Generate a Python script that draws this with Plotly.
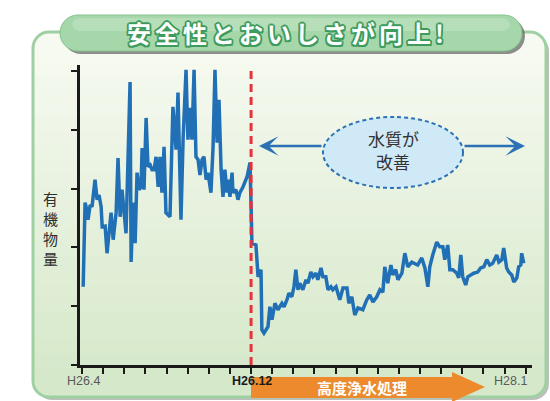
import plotly.graph_objects as go

# Organic-matter readings; x is months counted from H26.4
months = [
    0.05, 0.14, 0.19, 0.28, 0.38, 0.47, 0.61, 0.71, 0.80, 0.90, 0.95,
    1.09, 1.18, 1.28, 1.37, 1.47, 1.61, 1.70, 1.80, 1.89, 1.99,
    2.08, 2.27, 2.32, 2.41, 2.51, 2.60, 2.70, 2.79, 2.84, 2.93,
    3.03, 3.12, 3.22, 3.31, 3.41, 3.50, 3.60, 3.69, 3.78, 3.88, 3.97,
    4.16, 4.30, 4.45, 4.54, 4.68, 4.78, 4.92,
    5.01, 5.11, 5.20, 5.30, 5.39, 5.49, 5.58, 5.68, 5.77, 5.87, 5.96,
    6.10, 6.20, 6.29, 6.39, 6.48, 6.58, 6.67, 6.76, 6.86, 6.91,
    7.00, 7.10, 7.14, 7.28, 7.38, 7.47, 7.62, 7.81, 7.95,
    8.04, 8.23, 8.33, 8.47, 8.51, 8.61, 8.80, 8.89, 8.99,
    9.13, 9.27, 9.46, 9.56, 9.70, 9.79, 9.93,
    10.03, 10.12, 10.22, 10.31, 10.45, 10.60, 10.69, 10.83, 10.93,
    11.07, 11.16, 11.31, 11.40, 11.54, 11.64, 11.78, 11.87,
    12.02, 12.11, 12.20, 12.35, 12.54, 12.63, 12.77, 12.91,
    13.06, 13.29, 13.48, 13.62, 13.77, 13.95,
    14.10, 14.24, 14.33, 14.47, 14.62, 14.71, 14.85, 14.95,
    15.14, 15.28, 15.42, 15.61, 15.75, 15.89,
    16.08, 16.23, 16.37, 16.46, 16.60, 16.79, 16.93,
    17.08, 17.17, 17.31, 17.41, 17.55, 17.74, 17.83, 17.93,
    18.02, 18.16, 18.26, 18.40, 18.54, 18.73, 18.87,
    19.02, 19.16, 19.30, 19.44, 19.63, 19.73, 19.87, 19.96,
    20.10, 20.20, 20.34, 20.44, 20.58, 20.67, 20.77, 20.81, 20.91,
]
organic = [
    1.33, 2.76, 2.69, 2.47, 2.72, 2.69, 3.15, 2.81, 2.89, 2.69, 2.35,
    2.36, 1.90, 2.30, 2.59, 2.13, 2.59, 3.52, 2.52, 2.98, 2.59,
    2.24, 4.81, 1.75, 2.76, 2.07, 3.27, 2.98, 3.03, 3.69, 2.98,
    4.20, 3.37, 3.40, 3.32, 3.32, 3.54, 3.03, 3.54, 2.93, 3.71, 2.59,
    2.52, 4.39, 3.66, 4.63, 2.47, 3.83, 5.02,
    3.83, 4.37, 3.83, 5.02, 3.54, 3.49, 3.23, 3.49, 3.54, 3.15, 3.27,
    2.93, 3.71, 5.02, 3.78, 4.51, 3.32, 2.86, 3.32, 2.93, 3.15,
    2.86, 3.27, 2.93, 2.98, 2.81, 2.93, 3.03, 3.20, 3.44,
    2.07, 2.04, 1.50, 1.62, 0.60, 0.54, 0.65, 0.99, 0.77,
    1.05, 0.94, 1.05, 0.99, 1.11, 1.22, 1.16,
    1.33, 1.62, 1.28, 1.39, 1.28, 1.45, 1.39, 1.58, 1.50,
    1.56, 1.45, 1.65, 1.50, 1.50, 1.28, 1.33, 1.28,
    1.33, 1.22, 1.11, 1.31, 1.31, 1.05, 1.16, 0.85,
    0.97, 0.94, 1.11, 1.19, 1.07, 1.16,
    1.28, 1.24, 1.67, 1.39, 1.70, 1.53, 1.62, 1.45,
    1.56, 1.90, 1.67, 1.75, 1.73, 1.70,
    1.82, 1.65, 1.33, 1.67, 1.87, 2.09, 2.01,
    2.01, 1.79, 2.04, 1.62, 1.62, 1.56, 1.48, 1.87,
    1.50, 1.36, 1.50, 1.53, 1.56, 1.58, 1.65,
    1.67, 1.79, 1.70, 1.73, 1.87, 1.75, 1.79, 1.99,
    1.65, 1.58, 1.53, 1.41, 1.48, 1.67, 1.70, 1.90, 1.73,
]

tick_months = list(range(22))
tick_labels = {0: "H26.4", 8: "H26.12", 21: "H28.1"}
treatment_month = 8          # start of advanced water treatment
y_ticks = [0, 1, 2, 3, 4, 5]

title_text = "安全性とおいしさが向上!"
y_title = "有機物量"
bubble_lines = ["水質が", "改善"]
banner_text = "高度浄水処理"

W, H = 550, 401
LINE_BLUE = "#2170b6"


def fx(p):
    return p / W


def fy(p):
    return 1 - p / H


def rounded_path(x0, y0, x1, y1, r, top=True, bottom=True):
    """Rounded rectangle in pixel units, returned as a paper-space SVG path."""
    k = 0.5523
    rt = r if top else 0
    rb = r if bottom else 0
    s = f"M{fx(x0 + rt)},{fy(y0)} L{fx(x1 - rt)},{fy(y0)} "
    if rt:
        s += (f"C{fx(x1 - rt + k * rt)},{fy(y0)} {fx(x1)},{fy(y0 + rt - k * rt)} "
              f"{fx(x1)},{fy(y0 + rt)} ")
    s += f"L{fx(x1)},{fy(y1 - rb)} "
    if rb:
        s += (f"C{fx(x1)},{fy(y1 - rb + k * rb)} {fx(x1 - rb + k * rb)},{fy(y1)} "
              f"{fx(x1 - rb)},{fy(y1)} ")
    s += f"L{fx(x0 + rb)},{fy(y1)} "
    if rb:
        s += (f"C{fx(x0 + rb - k * rb)},{fy(y1)} {fx(x0)},{fy(y1 - rb + k * rb)} "
              f"{fx(x0)},{fy(y1 - rb)} ")
    s += f"L{fx(x0)},{fy(y0 + rt)} "
    if rt:
        s += (f"C{fx(x0)},{fy(y0 + rt - k * rt)} {fx(x0 + rt - k * rt)},{fy(y0)} "
              f"{fx(x0 + rt)},{fy(y0)} ")
    return s + "Z"


def mix(c0, c1, t):
    return "rgb({},{},{})".format(*[round(a + (b - a) * t) for a, b in zip(c0, c1)])


shapes = []

# panel: shadow, gradient body, border
PX0, PY0, PX1, PY1, PR = 33, 32, 546, 397, 16
TOP_C, BOT_C = (247, 250, 241), (213, 232, 201)
shapes.append(dict(type="path", xref="paper", yref="paper", layer="below",
                   path=rounded_path(PX0 + 3, PY0 + 3, PX1 + 3, PY1 + 3, PR),
                   fillcolor="rgba(110,110,110,0.45)", line=dict(width=0)))
shapes.append(dict(type="path", xref="paper", yref="paper", layer="below",
                   path=rounded_path(PX0, PY0, PX1, PY0 + PR + 1, PR, bottom=False),
                   fillcolor=mix(TOP_C, BOT_C, 0), line=dict(width=0)))
n_strips = 24
g0, g1 = PY0 + PR, PY1 - PR
for i in range(n_strips):
    a = g0 + (g1 - g0) * i / n_strips
    b = g0 + (g1 - g0) * (i + 1) / n_strips + 1
    shapes.append(dict(type="rect", xref="paper", yref="paper", layer="below",
                       x0=fx(PX0), x1=fx(PX1), y0=fy(b), y1=fy(a),
                       fillcolor=mix(TOP_C, BOT_C, (i + 0.5) / n_strips),
                       line=dict(width=0)))
shapes.append(dict(type="path", xref="paper", yref="paper", layer="below",
                   path=rounded_path(PX0, PY1 - PR - 1, PX1, PY1, PR, top=False),
                   fillcolor=mix(TOP_C, BOT_C, 1), line=dict(width=0)))
shapes.append(dict(type="path", xref="paper", yref="paper", layer="below",
                   path=rounded_path(PX0, PY0, PX1, PY1, PR),
                   fillcolor="rgba(0,0,0,0)", line=dict(color="#9fd0a2", width=3)))

# title capsule
shapes.append(dict(type="path", xref="paper", yref="paper", layer="below",
                   path=rounded_path(63, 18, 525, 54, 18),
                   fillcolor="rgba(70,70,70,0.6)", line=dict(width=0)))
shapes.append(dict(type="path", xref="paper", yref="paper", layer="below",
                   path=rounded_path(60, 15, 522, 51, 18),
                   fillcolor="#a6d7aa", line=dict(color="#86c48e", width=1)))
shapes.append(dict(type="path", xref="paper", yref="paper", layer="below",
                   path=rounded_path(72, 18, 510, 31, 8),
                   fillcolor="rgba(255,255,255,0.18)", line=dict(width=0)))

# treatment start marker
shapes.append(dict(type="line", xref="x", yref="paper", layer="above",
                   x0=treatment_month, x1=treatment_month, y0=fy(365), y1=fy(66),
                   line=dict(color="#e8323a", width=3, dash="8px,5px")))

# orange banner arrow for the treatment period
shapes.append(dict(type="path", xref="paper", yref="paper", layer="above",
                   path=(f"M{fx(251)},{fy(377)} L{fx(452)},{fy(377)} L{fx(452)},{fy(372)} "
                         f"L{fx(485)},{fy(387)} L{fx(452)},{fy(402)} L{fx(452)},{fy(398)} "
                         f"L{fx(251)},{fy(398)} Z"),
                   fillcolor="#ec8a2d", line=dict(width=0)))

# bubble
shapes.append(dict(type="circle", xref="paper", yref="paper", layer="above",
                   x0=fx(323), x1=fx(463), y0=fy(188), y1=fy(117),
                   fillcolor="#d0e9f6", line=dict(color="#2a72b5", width=2, dash="4px,3px")))

fig = go.Figure()
fig.add_trace(go.Scatter(
    x=months, y=organic, mode="lines",
    line=dict(color=LINE_BLUE, width=3.5),
    hoverinfo="skip", showlegend=False,
))

annotations = []
outline = "#3d9b5d"
shadow = ", ".join(f"{dx}px {dy}px 0 {outline}"
                   for dx, dy in [(-1.5, -1.5), (1.5, -1.5), (-1.5, 1.5), (1.5, 1.5),
                                  (0, 1.8), (1.8, 0), (-1.8, 0), (0, -1.8)])
centered = dict(xanchor="center", yanchor="middle", showarrow=False)
annotations.append(dict(
    xref="paper", yref="paper", x=fx(285), y=fy(32), **centered,
    text="\u2006".join(title_text),
    font=dict(family="Noto Sans CJK JP", size=24, color="white", weight="bold",
              shadow=shadow),
))
# vertical axis title, one character per row
for i, ch in enumerate(y_title):
    annotations.append(dict(
        xref="paper", yref="paper", x=fx(50), y=fy(198 + 20 * i), **centered,
        text=ch,
        font=dict(family="Noto Sans CJK JP", size=15, color="#2e2e2e"),
    ))
for m, lab in tick_labels.items():
    bold = m == treatment_month
    annotations.append(dict(
        xref="x", yref="paper", x=m, y=fy(381), **centered,
        xshift=-15 if m == tick_months[-1] else 1,
        text=f"<b>{lab}</b>" if bold else lab,
        font=dict(family="Liberation Sans", size=12.5,
                  color="#1a1a1a" if bold else "#5a5a5a"),
    ))
annotations.append(dict(
    xref="paper", yref="paper", x=fx(362), y=fy(387), **centered,
    text=f"<b>{banner_text}</b>",
    font=dict(family="Noto Sans CJK JP", size=15, color="white"),
))
for line_text, ly in zip(bubble_lines, [138, 161]):
    annotations.append(dict(
        xref="paper", yref="paper", x=fx(393), y=fy(ly), **centered,
        text=line_text,
        font=dict(family="Noto Sans CJK JP", size=17, color="#333333"),
    ))
# double arrow on both sides of the bubble
for tip, off in [(259, 64), (525, -62)]:
    annotations.append(dict(
        xref="paper", yref="paper", x=fx(tip), y=fy(146), ax=off, ay=0,
        showarrow=True, arrowhead=3, arrowsize=1.3, arrowwidth=2.5,
        arrowcolor="#2a72b5", text="",
    ))

axis_color = "#1a1a1a"
fig.update_layout(
    width=W, height=H, autosize=False,
    margin=dict(l=0, r=0, t=0, b=0),
    paper_bgcolor="white", plot_bgcolor="rgba(0,0,0,0)",
    showlegend=False,
    shapes=shapes, annotations=annotations,
    xaxis=dict(domain=[fx(80), fx(532)], range=[-0.1, 21.3],
               tickvals=tick_months, showticklabels=False,
               ticks="outside", ticklen=6, tickwidth=2, tickcolor=axis_color,
               showline=True, linecolor=axis_color, linewidth=2.5,
               showgrid=False, zeroline=False, fixedrange=True),
    yaxis=dict(domain=[fy(365), fy(65)], range=[0, 5.1],
               tickvals=y_ticks, showticklabels=False,
               ticks="outside", ticklen=6, tickwidth=2, tickcolor=axis_color,
               showline=True, linecolor=axis_color, linewidth=2.5,
               showgrid=False, zeroline=False, fixedrange=True),
)

fig.write_html("out.html")
